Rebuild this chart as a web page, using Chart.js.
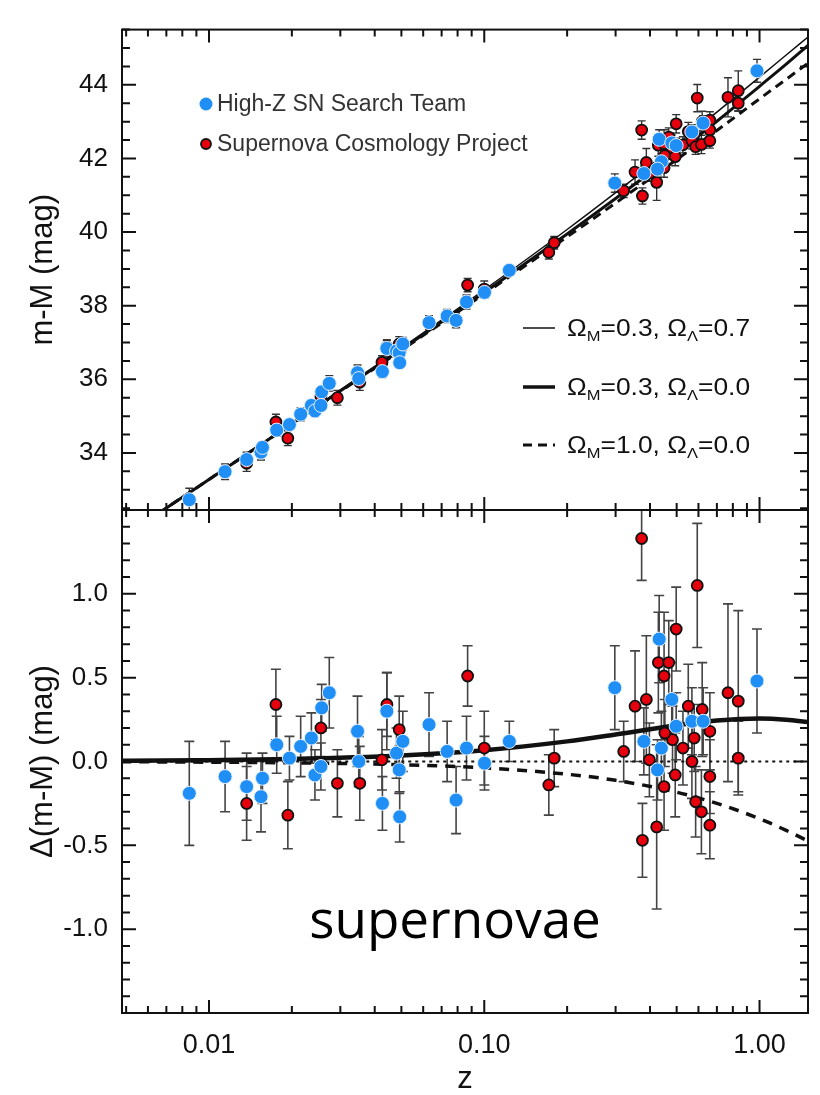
<!DOCTYPE html>
<html>
<head>
<meta charset="utf-8">
<script src="https://cdn.jsdelivr.net/npm/chart.js@4.4.1/dist/chart.umd.min.js"></script>
<style>
  html, body { margin: 0; padding: 0; background: #fff; }
  #wrap { position: relative; width: 820px; height: 1095px; }
  #wrap canvas { position: absolute; left: 0; top: 0; }
</style>
</head>
<body>
<div id="wrap">
  <canvas id="hubble" width="820" height="1095"></canvas>
  <canvas id="resid" width="820" height="1095"></canvas>
</div>
<script>
// ---------- values ----------
const zTicks = [0.01, 0.1, 1];
const muTicks = [34, 36, 38, 40, 42, 44];
const dTicks = [-1, -0.5, 0, 0.5, 1];

const seriesNames = ['High-Z SN Search Team', 'Supernova Cosmology Project'];
const modelOmegaM = ['0.3', '0.3', '1.0'];
const modelOmegaL = ['0.7', '0.0', '0.0'];

// High-Z SN Search Team (blue)
const zBlue = [0.00848, 0.01144, 0.0137, 0.01545, 0.01564, 0.01762, 0.0196, 0.02153, 0.02355, 0.02567,
  0.02735, 0.02426, 0.0255, 0.03464, 0.0350, 0.04426, 0.048, 0.0491, 0.0506, 0.04266,
  0.063, 0.0733, 0.0862, 0.079, 0.1002, 0.1233, 0.0493, 0.298, 0.432, 0.480,
  0.498, 0.568, 0.624, 0.380, 0.44, 0.426, 0.979];
const muBlue = [32.73, 33.49, 33.82, 34.02, 34.15, 34.62, 34.77, 35.05, 35.29, 35.66,
  35.89, 35.14, 35.29, 36.18, 36.02, 36.84, 36.77, 36.72, 36.96, 36.21,
  37.54, 37.72, 38.10, 37.60, 38.36, 38.96, 36.45, 41.33, 42.52, 42.42,
  42.35, 42.72, 42.96, 41.59, 41.91, 41.71, 44.38];
const dBlue = [-0.19, -0.09, -0.15, -0.21, -0.10, 0.10, 0.02, 0.09, 0.14, 0.32,
  0.41, -0.08, -0.03, 0.18, 0.00, 0.30, 0.05, -0.05, 0.12, -0.25,
  0.22, 0.06, 0.08, -0.23, -0.01, 0.12, -0.33, 0.44, 0.73, 0.37,
  0.21, 0.24, 0.24, 0.12, 0.08, -0.05, 0.48];
const eBlue = [0.31, 0.21, 0.20, 0.21, 0.15, 0.17, 0.13, 0.18, 0.15, 0.14,
  0.21, 0.15, 0.14, 0.21, 0.15, 0.23, 0.15, 0.14, 0.18, 0.16,
  0.19, 0.18, 0.19, 0.20, 0.16, 0.12, 0.15, 0.25, 0.26, 0.22,
  0.20, 0.20, 0.20, 0.20, 0.22, 0.18, 0.31];

// Supernova Cosmology Project (red)
const zRed = [0.0175, 0.0255, 0.02927, 0.0353, 0.0443, 0.0491, 0.087, 0.1, 0.0137, 0.01934,
  0.0425, 0.1716, 0.1795, 0.321, 0.353, 0.373, 0.388, 0.429, 0.468, 0.450,
  0.498, 0.594, 0.768, 0.837, 0.837, 0.551, 0.619, 0.660, 0.483, 0.527,
  0.453, 0.579, 0.398, 0.568, 0.494, 0.660, 0.450, 0.586, 0.3755, 0.423,
  0.615, 0.660];
const muRed = [34.84, 35.53, 35.50, 35.92, 36.88, 36.96, 38.56, 38.45, 33.72, 34.40,
  36.46, 39.45, 39.71, 41.12, 41.63, 42.77, 41.89, 42.36, 42.58, 42.40,
  42.94, 43.64, 43.66, 43.84, 43.50, 42.73, 43.00, 43.04, 42.20, 42.37,
  42.08, 42.66, 41.60, 42.48, 42.05, 42.77, 41.75, 42.32, 40.98, 41.35,
  42.38, 42.48];
const dRed = [0.34, 0.20, -0.13, -0.13, 0.34, 0.19, 0.51, 0.08, -0.25, -0.32,
  0.01, -0.14, 0.02, 0.06, 0.33, 1.33, 0.37, 0.59, 0.59, 0.51,
  0.79, 1.05, 0.41, 0.36, 0.02, 0.33, 0.31, 0.18, 0.13, 0.08,
  0.17, 0.14, 0.01, 0.00, -0.08, -0.09, -0.15, -0.24, -0.47, -0.39,
  -0.30, -0.38];
const eRed = [0.21, 0.17, 0.20, 0.22, 0.19, 0.20, 0.18, 0.22, 0.22, 0.20,
  0.18, 0.18, 0.17, 0.18, 0.33, 0.25, 0.38, 0.30, 0.25, 0.38,
  0.25, 0.37, 0.53, 0.54, 0.22, 0.25, 0.28, 0.23, 0.20, 0.22,
  0.20, 0.20, 0.22, 0.22, 0.25, 0.22, 0.26, 0.21, 0.22, 0.49,
  0.25, 0.20];

// model curves, sampled off the figure
const zModel = [0.0048, 0.005, 0.01, 0.02, 0.05, 0.1, 0.2, 0.3, 0.5, 0.7, 1.0, 1.25, 1.5];
const muLambda = [31.68, 31.77, 33.29, 34.81, 36.85, 38.43, 40.07, 41.07, 42.37, 43.26, 44.21, 44.81, 45.30];
const muOpen   = [31.68, 31.77, 33.28, 34.79, 36.81, 38.36, 39.95, 40.91, 42.16, 43.01, 43.96, 44.56, 45.07];
const muFlat   = [31.68, 31.77, 33.28, 34.79, 36.79, 38.32, 39.87, 40.79, 41.97, 42.76, 43.62, 44.15, 44.59];
const dLambda  = [0.004, 0.004, 0.008, 0.015, 0.036, 0.067, 0.120, 0.161, 0.216, 0.244, 0.256, 0.249, 0.235];
const dOpen    = [0, 0, 0, 0, 0, 0, 0, 0, 0, 0, 0, 0, 0];
const dFlat    = [-0.002, -0.002, -0.004, -0.008, -0.019, -0.038, -0.076, -0.112, -0.183, -0.250, -0.341, -0.411, -0.474];

// ---------- styling ----------
const INK = '#111';
const BLUE = '#1f8ff5';
const RED = '#e6000e';
const FONT = '"Liberation Sans", Arial, sans-serif';

Chart.defaults.font.family = FONT;
Chart.defaults.color = INK;

function pts(xs, ys) {
  return xs.map((x, i) => ({x: x, y: ys[i]}));
}

// inward ticks on all four sides plus the box
const frame = {
  id: 'frame',
  afterDatasetsDraw(chart, args, o) {
    const {ctx, chartArea: a} = chart;
    const x = chart.scales.x, y = chart.scales.y;
    ctx.save();
    ctx.strokeStyle = INK;
    ctx.lineWidth = 2;
    ctx.beginPath();
    for (let e = -3; e <= 0; e++) {
      for (let m = 1; m <= 9; m++) {
        const v = m * Math.pow(10, e);
        if (v < x.min || v > x.max) continue;
        const px = x.getPixelForValue(v);
        const len = m === 1 ? 13 : 7;
        ctx.moveTo(px, a.bottom); ctx.lineTo(px, a.bottom - len);
        ctx.moveTo(px, a.top); ctx.lineTo(px, a.top + len);
      }
    }
    const n0 = Math.ceil(y.min / o.minor - 1e-6), n1 = Math.floor(y.max / o.minor + 1e-6);
    for (let n = n0; n <= n1; n++) {
      const v = n * o.minor;
      const py = y.getPixelForValue(v);
      const r = v / o.major;
      const len = Math.abs(r - Math.round(r)) < 1e-6 ? 14 : 8;
      ctx.moveTo(a.left, py); ctx.lineTo(a.left + len, py);
      ctx.moveTo(a.right, py); ctx.lineTo(a.right - len, py);
    }
    ctx.stroke();
    ctx.strokeRect(a.left, a.top, a.right - a.left, a.bottom - a.top);
    ctx.restore();
  }
};

// vertical error bars with caps, under the points
const errorBars = {
  id: 'errorBars',
  beforeDatasetsDraw(chart, args, o) {
    const {ctx, chartArea: a} = chart;
    const x = chart.scales.x, y = chart.scales.y;
    ctx.save();
    ctx.beginPath();
    ctx.rect(a.left, a.top, a.right - a.left, a.bottom - a.top);
    ctx.clip();
    ctx.strokeStyle = o.color;
    ctx.lineWidth = o.width;
    chart.data.datasets.forEach(ds => {
      if (!ds.errors) return;
      ds.data.forEach((p, i) => {
        const px = x.getPixelForValue(p.x);
        const lo = y.getPixelForValue(p.y - ds.errors[i]);
        const hi = y.getPixelForValue(p.y + ds.errors[i]);
        ctx.beginPath();
        ctx.moveTo(px, lo); ctx.lineTo(px, hi);
        ctx.moveTo(px - o.cap, lo); ctx.lineTo(px + o.cap, lo);
        ctx.moveTo(px - o.cap, hi); ctx.lineTo(px + o.cap, hi);
        ctx.stroke();
      });
    });
    ctx.restore();
  }
};

function omegaLabel(ctx, x, yBase, om, ol) {
  ctx.save();
  ctx.translate(x, yBase);
  ctx.scale(1.1, 1);
  ctx.textBaseline = 'alphabetic';
  const big = '24px ' + FONT, small = '15px ' + FONT;
  const parts = [['\u03A9', big, 0], ['M', small, 5], ['=' + om + ', \u03A9', big, 0], ['\u039B', small, 5], ['=' + ol, big, 0]];
  let cx = 0;
  parts.forEach(([t, f, dy]) => {
    ctx.font = f;
    ctx.fillText(t, cx, dy);
    cx += ctx.measureText(t).width;
  });
  ctx.restore();
}

// keys drawn inside the upper panel
const keys = {
  id: 'keys',
  afterDraw(chart) {
    const ctx = chart.ctx;
    ctx.save();
    ctx.fillStyle = INK;
    ctx.strokeStyle = INK;
    ctx.textBaseline = 'middle';
    ctx.font = '23px ' + FONT;
    // point keys
    ctx.beginPath(); ctx.arc(206, 104, 6.5, 0, Math.PI * 2);
    ctx.fillStyle = BLUE; ctx.fill();
    ctx.fillStyle = '#333'; ctx.fillText(seriesNames[0], 217, 105);
    ctx.beginPath(); ctx.arc(206, 144, 5, 0, Math.PI * 2);
    ctx.fillStyle = RED; ctx.fill(); ctx.lineWidth = 1.8; ctx.stroke();
    ctx.fillStyle = '#333'; ctx.fillText(seriesNames[1], 217, 145);
    // line keys
    const rows = [328, 387, 445], widths = [1.5, 3.5, 3], dashes = [[], [], [9, 6]];
    ctx.fillStyle = INK;
    rows.forEach((ry, i) => {
      ctx.save();
      ctx.lineWidth = widths[i];
      ctx.setLineDash(dashes[i]);
      ctx.beginPath(); ctx.moveTo(523, ry); ctx.lineTo(555, ry); ctx.stroke();
      ctx.restore();
      omegaLabel(ctx, 567, ry + 8, modelOmegaM[i], modelOmegaL[i]);
    });
    ctx.restore();
  }
};

const caption = {
  id: 'caption',
  afterDraw(chart) {
    const ctx = chart.ctx;
    ctx.save();
    ctx.fillStyle = '#000';
    ctx.font = '53px "Open Sans", sans-serif';
    ctx.textAlign = 'center';
    ctx.textBaseline = 'alphabetic';
    ctx.fillText('supernovae', 455, 938);
    ctx.restore();
  }
};

function pointSet(label, z, v, err, fill, edge, r, bw, order) {
  return {
    label: label, data: pts(z, v), errors: err, order: order,
    pointRadius: r, pointBackgroundColor: fill, pointBorderColor: edge, pointBorderWidth: bw,
    showLine: false, clip: 0
  };
}
function curve(z, v, w, dash, order) {
  return {
    data: pts(z, v), showLine: true, pointRadius: 0, borderColor: INK, borderWidth: w,
    borderDash: dash, cubicInterpolationMode: 'monotone', fill: false, order: order, clip: 0
  };
}

const xBase = {type: 'logarithmic', min: 0.00483, max: 1.5};

function yAxis(min, max, ticks, title, fmt) {
  return {
    type: 'linear', min: min, max: max,
    afterFit: s => { s.width = 122; },
    afterBuildTicks: s => { s.ticks = ticks.map(v => ({value: v})); },
    grid: {display: false, drawTicks: false},
    border: {display: false},
    ticks: {padding: 14, autoSkip: false, font: {size: 26}, color: INK, callback: fmt},
    title: {display: true, text: title, font: {size: 31}, color: INK, padding: {top: 25, bottom: 0}}
  };
}

const common = {
  responsive: false, animation: false, events: [],
  plugins: {legend: {display: false}, tooltip: {enabled: false}}
};

new Chart(document.getElementById('hubble'), {
  type: 'scatter',
  data: {
    datasets: [
      pointSet(seriesNames[0], zBlue, muBlue, eBlue, BLUE, '#e3efff', 7, 1, 0),
      pointSet(seriesNames[1], zRed, muRed, eRed, RED, INK, 5.5, 1.8, 1),
      curve(zModel, muLambda, 1.5, [], 2),
      curve(zModel, muOpen, 3, [], 3),
      curve(zModel, muFlat, 3, [9, 6], 4)
    ]
  },
  options: Object.assign({}, common, {
    layout: {padding: {top: 5, right: 12, bottom: 585, left: 0}},
    scales: {
      x: Object.assign({display: false}, xBase),
      y: yAxis(32.45, 45.5, muTicks, 'm-M (mag)', v => String(v))
    },
    plugins: Object.assign({}, common.plugins, {
      frame: {minor: 0.5, major: 2},
      errorBars: {color: '#333', width: 1.4, cap: 4}
    })
  }),
  plugins: [errorBars, frame, keys]
});

new Chart(document.getElementById('resid'), {
  type: 'scatter',
  data: {
    datasets: [
      pointSet(seriesNames[0], zBlue, dBlue, eBlue, BLUE, '#e3efff', 7, 1, 0),
      pointSet(seriesNames[1], zRed, dRed, eRed, RED, INK, 5.5, 1.8, 1),
      curve(zModel, dLambda, 4.5, [], 2),
      curve(zModel, dOpen, 2, [3, 4], 3),
      curve(zModel, dFlat, 3.5, [10, 8], 4)
    ]
  },
  options: Object.assign({}, common, {
    layout: {padding: {top: 510, right: 12, bottom: 0, left: 0}},
    scales: {
      x: Object.assign({
        afterFit: s => { s.height = 82; },
        afterBuildTicks: s => { s.ticks = zTicks.map(v => ({value: v})); },
        grid: {display: false, drawTicks: false},
        border: {display: false},
        ticks: {padding: 16, autoSkip: false, maxRotation: 0, font: {size: 27}, color: INK,
          callback: v => Number(v).toFixed(2)},
        title: {display: true, text: 'z', font: {size: 31, lineHeight: 1}, color: INK, padding: {top: 0, bottom: 0}}
      }, xBase),
      y: yAxis(-1.5, 1.5, dTicks, '\u0394(m-M) (mag)', v => Number(v).toFixed(1))
    },
    plugins: Object.assign({}, common.plugins, {
      frame: {minor: 0.1, major: 0.5},
      errorBars: {color: '#444', width: 1.6, cap: 5}
    })
  }),
  plugins: [errorBars, frame, caption]
});
</script>
</body>
</html>
